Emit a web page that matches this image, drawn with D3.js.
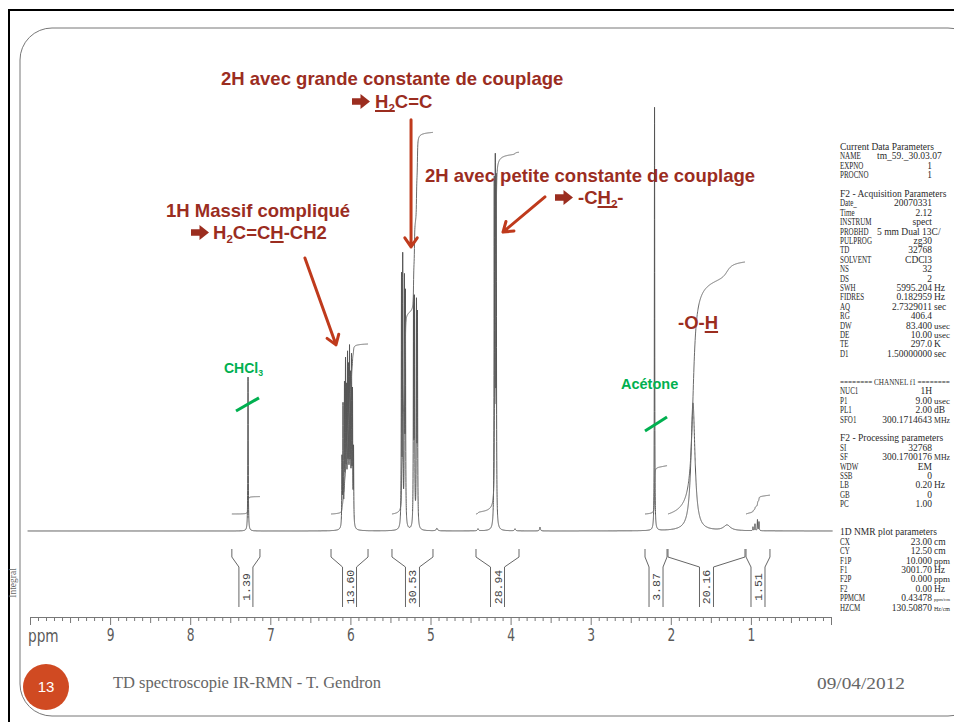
<!DOCTYPE html>
<html>
<head>
<meta charset="utf-8">
<script src="https://cdn.jsdelivr.net/npm/d3@7"></script>
<style>
  body { margin: 0; background: #fff; }
  svg { display: block; }
</style>
</head>
<body>
<svg id="chart" width="954" height="722"></svg>
<script>
// ---------- data ----------
// ppm labels on the ruler
const axisTicks = [9, 8, 7, 6, 5, 4, 3, 2, 1];

// 1H lines: position (ppm), height (relative intensity), half-width (ppm)
const peakPpm = [
  7.278,                                                   // CHCl3
  6.105, 6.092, 6.074, 6.061, 6.049, 6.036, 6.024, 6.011, 5.999, 5.986, 5.974, 5.961, // =CH-
  5.362, 5.347, 5.325, 5.313, 5.212, 5.200, 5.175, 5.163, // =CH2
  4.920, 4.407,
  4.204, 4.191, 4.179,                                     // -CH2-O
  3.945, 3.633,
  2.203,                                                   // acetone
  1.723,                                                   // O-H
  1.298,
  0.974, 0.949, 0.918, 0.899
];
const peakHeight = [
  36.3,
  15.8, 27.9, 31.6, 36.3, 29.3, 37.2, 33.9, 38.6, 32.1, 37.2, 29.8, 17.7,
  58.0, 62.0, 56.0, 53.0, 52.0, 51.5, 51.0, 48.5,
  0.6, 0.5,
  78.5, 80.5, 78.5,
  0.5, 0.9,
  99.8,
  30.2,
  1.3,
  0.9, 1.6, 2.6, 2.1
];
const peakWidth = [
  0.003,
  0.003, 0.003, 0.003, 0.003, 0.003, 0.003, 0.003, 0.003, 0.003, 0.003, 0.003, 0.003,
  0.003, 0.003, 0.003, 0.003, 0.003, 0.003, 0.003, 0.003,
  0.010, 0.008,
  0.003, 0.003, 0.003,
  0.008, 0.006,
  0.0025,
  0.030,
  0.050,
  0.003, 0.003, 0.003, 0.003
];

// integrated regions (ppm bounds) and their values
const integralFrom  = [7.480, 6.242, 5.481, 4.432, 2.322, 2.035, 1.061];
const integralTo    = [7.129, 5.780, 4.969, 3.895, 2.047, 1.074, 0.762];
const integralValue = [1.39, 13.60, 30.53, 28.94, 3.87, 20.16, 1.51];

// acquisition / processing printout
const paramLabels = [
  "Current Data Parameters", "NAME", "EXPNO", "PROCNO", "",
  "F2 - Acquisition Parameters", "Date_", "Time", "INSTRUM", "PROBHD", "PULPROG", "TD", "SOLVENT",
  "NS", "DS", "SWH", "FIDRES", "AQ", "RG", "DW", "DE", "TE", "D1", "", "",
  "======== CHANNEL f1 ========", "NUC1", "P1", "PL1", "SFO1", "",
  "F2 - Processing parameters", "SI", "SF", "WDW", "SSB", "LB", "GB", "PC", "", "",
  "1D NMR plot parameters", "CX", "CY", "F1P", "F1", "F2P", "F2", "PPMCM", "HZCM"
];
const paramValues = [
  "", "tm_59._30.03.07", "1", "1", "",
  "", "20070331", "2.12", "spect", "5 mm Dual 13C/", "zg30", "32768", "CDCl3",
  "32", "2", "5995.204", "0.182959", "2.7329011", "406.4", "83.400", "10.00", "297.0", "1.50000000", "", "",
  "", "1H", "9.00", "2.00", "300.1714643", "",
  "", "32768", "300.1700176", "EM", "0", "0.20", "0", "1.00", "", "",
  "", "23.00", "12.50", "10.000", "3001.70", "0.000", "0.00", "0.43478", "130.50870"
];
const paramUnits = [
  "", "", "", "", "",
  "", "", "", "", "", "", "", "",
  "", "", "Hz", "Hz", "sec", "", "usec", "usec", "K", "sec", "", "",
  "", "", "usec", "dB", "MHz", "",
  "", "", "MHz", "", "", "Hz", "", "", "", "",
  "", "cm", "cm", "ppm", "Hz", "ppm", "Hz", "ppm/cm", "Hz/cm"
];

// ---------- setup ----------
const svg = d3.select("#chart");
const x = d3.scaleLinear().domain([10, 0]).range([30, 831]);
const y = d3.scaleLinear().domain([0, 100]).range([531, 107]);
const yInt = d3.scaleLinear().domain([0, 1]).range([514, 501.5]);

const RED = "#9b2d1f", ARROW = "#bf3a1c", GREEN = "#00b050";

// slide frame
svg.append("path").attr("d", "M9,722V10H954").attr("fill", "none")
  .attr("stroke", "#000").attr("stroke-width", 2);
svg.append("rect").attr("x", 20).attr("y", 28).attr("width", 960).attr("height", 688)
  .attr("rx", 32).attr("fill", "none").attr("stroke", "#777").attr("stroke-width", 1);

// ---------- spectrum ----------
function intensity(p) {
  let s = 0;
  for (let i = 0; i < peakPpm.length; i++) {
    const d = p - peakPpm[i], g = peakWidth[i];
    s += peakHeight[i] * g * g / (d * d + g * g);
  }
  return s;
}
const samples = d3.range(0, 20101).map(j => {
  const p = 10.03 - j * 0.0005;
  return [p, intensity(p)];
});
svg.append("path")
  .attr("d", d3.line().x(d => x(d[0])).y(d => y(d[1]))(samples))
  .attr("fill", "none").attr("stroke", "#555").attr("stroke-width", 1);

// ---------- integrals ----------
function partialArea(hi, lo, i) {
  const g = peakWidth[i], c = peakPpm[i];
  return peakHeight[i] * g * (Math.atan((hi - c) / g) - Math.atan((lo - c) / g));
}
const intLine = d3.line().x(d => x(d[0])).y(d => yInt(d[1]));
integralValue.forEach((v, k) => {
  const a = integralFrom[k], b = integralTo[k];
  const total = d3.sum(peakPpm, (_, i) => partialArea(a, b, i));
  const pts = d3.range(0, 401).map(j => {
    const p = a + (b - a) * j / 400;
    const f = d3.sum(peakPpm, (_, i) => partialArea(a, p, i)) / total;
    return [p, v * f];
  });
  svg.append("path").attr("d", intLine(pts)).attr("fill", "none")
    .attr("stroke", "#6a6a6a").attr("stroke-width", 1);
});

// integral value brackets under the spectrum
const bTop = 549, bShoulder = 557, bNeck = 567, bBottom = 607, neck = 7;
const brackets = svg.append("g");
integralValue.forEach((v, k) => {
  const x0 = x(integralFrom[k]), x1 = x(integralTo[k]), xm = (x0 + x1) / 2;
  brackets.append("path")
    .attr("d", `M${x0},${bTop}V${bShoulder}L${xm - neck},${bNeck}V${bBottom}` +
               `M${x1},${bTop}V${bShoulder}L${xm + neck},${bNeck}V${bBottom}`)
    .attr("fill", "none").attr("stroke", "#666").attr("stroke-width", 1);
  brackets.append("text")
    .attr("transform", `translate(${xm + 4},${(bNeck + bBottom) / 2}) rotate(-90)`)
    .attr("text-anchor", "middle")
    .attr("font-family", "Liberation Mono").attr("font-size", 11.5).attr("fill", "#444")
    .text(d3.format(".2f")(v));
});
svg.append("text")
  .attr("transform", "translate(16,583) rotate(-90)")
  .attr("text-anchor", "middle").attr("font-family", "Liberation Serif")
  .attr("font-size", 9.5).attr("fill", "#666").text("Integral");

// ---------- ppm ruler ----------
const ruler = svg.append("g").attr("transform", "translate(0,617)");
ruler.call(d3.axisBottom(x).tickValues(d3.range(0, 101).map(i => i / 10))
  .tickSize(4).tickSizeOuter(0).tickFormat(""));
ruler.selectAll(".tick line")
  .attr("y2", d => (Math.abs(d - Math.round(d)) < 1e-6 ? 8 : Math.abs(d * 2 - Math.round(d * 2)) < 1e-6 ? 6 : 4));
ruler.selectAll("path, line").attr("stroke", "#777");
const labels = svg.append("g").attr("transform", "translate(0,617)");
labels.call(d3.axisBottom(x).tickValues(axisTicks).tickSize(0).tickPadding(11).tickFormat(d3.format("d")));
labels.select(".domain").remove();
labels.selectAll("text")
  .attr("font-family", "DejaVu Sans").attr("font-size", 18).attr("fill", "#5a5a5a")
  .attr("transform", "scale(0.68,1)");
svg.append("text").attr("x", 0).attr("y", 0)
  .attr("transform", "translate(28,642) scale(0.76,1)")
  .attr("font-family", "DejaVu Sans").attr("font-size", 18).attr("fill", "#5a5a5a").text("ppm");

// ---------- parameter printout ----------
const RIGHT = 950, PFS = 9.5;
const pg = svg.append("g").attr("font-family", "Liberation Serif").attr("font-size", PFS).attr("fill", "#2a2a2a");
function printText(px, py, str, anchor, sx) {
  const t = pg.append("text").attr("transform", `translate(${px},${py}) scale(${sx},1)`)
    .attr("text-anchor", anchor).text(str);
  if (anchor === "start") {
    // shrink a line that would run past the slide edge
    const w = t.node().getComputedTextLength() * sx;
    if (px + w > RIGHT) t.attr("font-size", PFS * (RIGHT - px) / w);
  }
}
paramLabels.forEach((lab, i) => {
  const by = 150 + i * 9.4;
  if (!lab) return;
  const val = paramValues[i];
  const isKey = val !== "" || paramUnits[i] !== "";
  printText(840, by, lab, "start", isKey ? 0.74 : 1);
  if (val) {
    if (val.length > 12) printText(877, by, val, "start", 1);
    else printText(932, by, val, "end", 1);
  }
  if (paramUnits[i]) printText(934, by, paramUnits[i], "start", 1);
});

// ---------- annotations ----------
// heavy right arrow used as a bullet in front of the formulas
function bulletArrow(x0, baseY, color) {
  const cy = baseY - 6.5;
  svg.append("path")
    .attr("d", `M${x0},${cy - 3.2}H${x0 + 8.5}V${cy - 7.5}L${x0 + 18},${cy}L${x0 + 8.5},${cy + 7.5}V${cy + 3.2}H${x0}Z`)
    .attr("fill", color);
}
function richText(x0, y0, parts, size, color) {
  const t = svg.append("text").attr("x", x0).attr("y", y0)
    .attr("font-family", "Liberation Sans").attr("font-weight", "bold")
    .attr("font-size", size).attr("fill", color);
  let shift = 0;
  parts.forEach(p => {
    const s = t.append("tspan").text(p.t);
    if (p.sub) { s.attr("font-size", size * 0.62).attr("dy", size * 0.22 - shift); shift = size * 0.22; }
    else if (shift) { s.attr("dy", -shift); shift = 0; }
  });
  return t;
}
function underline(t, from, to, y0, color) {
  const node = t.node();
  const a = node.getStartPositionOfChar(from).x, b = node.getEndPositionOfChar(to - 1).x;
  svg.append("line").attr("x1", a).attr("x2", b).attr("y1", y0).attr("y2", y0)
    .attr("stroke", color).attr("stroke-width", 2);
}
function arrow(p0, p1, head) {
  const [xa, ya] = p0, [xb, yb] = p1;
  const ang = Math.atan2(yb - ya, xb - xa), spread = 0.6;
  const h1 = [xb - head * Math.cos(ang - spread), yb - head * Math.sin(ang - spread)];
  const h2 = [xb - head * Math.cos(ang + spread), yb - head * Math.sin(ang + spread)];
  svg.append("path")
    .attr("d", `M${xa},${ya}L${xb},${yb}M${h1[0]},${h1[1]}L${xb},${yb}L${h2[0]},${h2[1]}`)
    .attr("fill", "none").attr("stroke", ARROW).attr("stroke-width", 3)
    .attr("stroke-linecap", "round").attr("stroke-linejoin", "round");
}

const FS = 18.5;
richText(221, 85, [{ t: "2H avec grande constante de couplage" }], FS, RED);
bulletArrow(352, 108, RED);
const t2 = richText(375, 108, [{ t: "H" }, { t: "2", sub: true }, { t: "C=C" }], FS, RED);
underline(t2, 0, 2, 111, RED);
richText(166, 217, [{ t: "1H Massif compliqué" }], FS, RED);
bulletArrow(191, 239, RED);
const t4 = richText(213, 239, [{ t: "H" }, { t: "2", sub: true }, { t: "C=CH-CH2" }], FS, RED);
underline(t4, 5, 6, 242, RED);
richText(425, 182, [{ t: "2H avec petite constante de couplage" }], FS, RED);
bulletArrow(555, 204, RED);
const t6 = richText(578, 204, [{ t: "-C" }, { t: "H" }, { t: "2", sub: true }, { t: "-" }], FS, RED);
underline(t6, 2, 4, 207, RED);
const t7 = richText(678, 329, [{ t: "-O-H" }], FS, RED);
underline(t7, 3, 4, 332, RED);

richText(224, 373, [{ t: "CHCl" }, { t: "3", sub: true }], 14, GREEN);
richText(621, 389, [{ t: "Acétone" }], 14.5, GREEN);

// arrows pointing at the signals
arrow([x(5.243), y(97)], [x(5.243), y(67)], 11);
arrow([x(6.568), y(64.4)], [x(6.180), y(43.9)], 11);
arrow([x(3.571), y(78.8)], [x(4.095), y(70.5)], 11);

// solvent marks
svg.append("line").attr("x1", x(7.428)).attr("y1", y(28.3)).attr("x2", x(7.141)).attr("y2", y(31.4))
  .attr("stroke", GREEN).attr("stroke-width", 3);
svg.append("line").attr("x1", x(2.322)).attr("y1", y(23.6)).attr("x2", x(2.047)).attr("y2", y(26.9))
  .attr("stroke", GREEN).attr("stroke-width", 3);

// ---------- footer ----------
svg.append("circle").attr("cx", 46).attr("cy", 687).attr("r", 23).attr("fill", "#d04a22");
svg.append("text").attr("x", 46).attr("y", 692).attr("text-anchor", "middle")
  .attr("font-family", "Liberation Sans").attr("font-size", 15).attr("fill", "#fff").text("13");
svg.append("text").attr("x", 113).attr("y", 688)
  .attr("font-family", "Liberation Serif").attr("font-size", 16.5).attr("fill", "#666")
  .text("TD spectroscopie IR-RMN - T. Gendron");
svg.append("text").attr("x", 817).attr("y", 689)
  .attr("font-family", "Liberation Serif").attr("font-size", 17).attr("fill", "#666")
  .attr("textLength", 88).attr("lengthAdjust", "spacingAndGlyphs")
  .text("09/04/2012");
</script>
</body>
</html>
